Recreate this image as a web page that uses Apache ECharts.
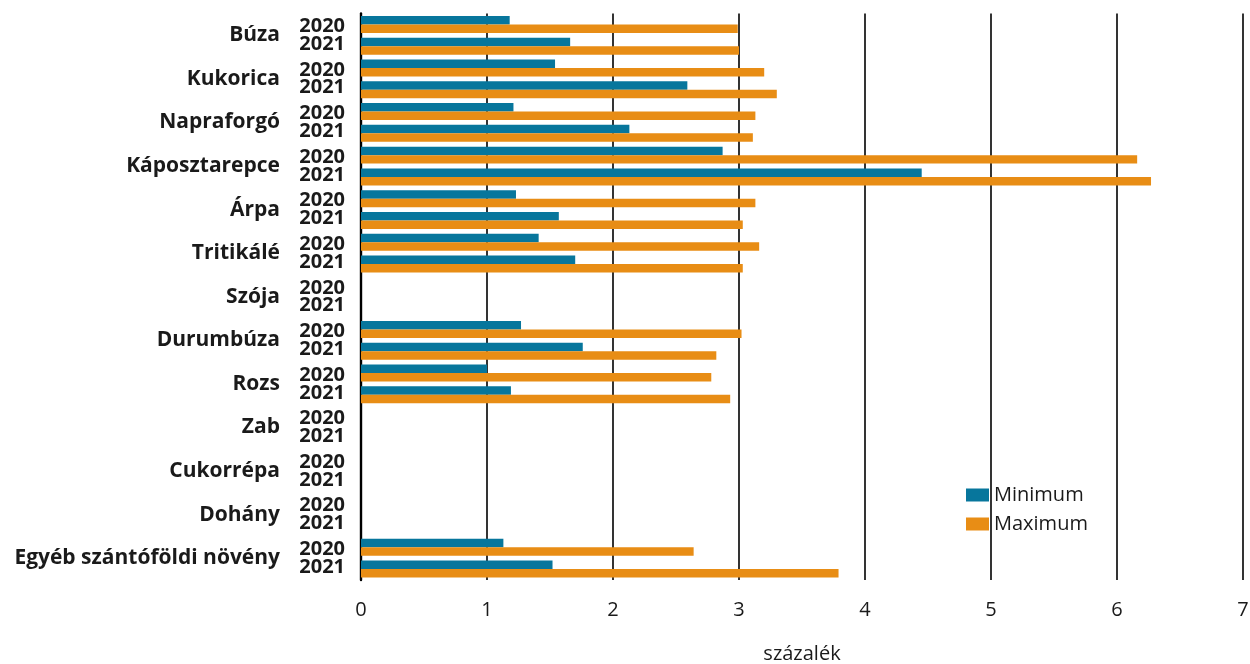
<!DOCTYPE html>
<html>
<head>
<meta charset="utf-8">
<script src="https://cdn.jsdelivr.net/npm/echarts@6/dist/echarts.min.js"></script>
<style>
html,body{margin:0;padding:0;background:#fff;}
#chart{width:1250px;height:664px;}
</style>
</head>
<body>
<div id="chart"></div>
<script>
const crops = ['Búza','Kukorica','Napraforgó','Káposztarepce','Árpa','Tritikálé','Szója','Durumbúza','Rozs','Zab','Cukorrépa','Dohány','Egyéb szántóföldi növény'];
const years = ['2020','2021'];
const min2020 = [1.18,1.54,1.21,2.87,1.23,1.41,null,1.27,1.00,null,null,null,1.13];
const min2021 = [1.66,2.59,2.13,4.45,1.57,1.70,null,1.76,1.19,null,null,null,1.52];
const max2020 = [2.99,3.20,3.13,6.16,3.13,3.16,null,3.02,2.78,null,null,null,2.64];
const max2021 = [3.00,3.30,3.11,6.27,3.03,3.03,null,2.82,2.93,null,null,null,3.79];
const xTicks = [0,1,2,3,4,5,6,7];
const xName = 'százalék';

const rows = [], minData = [], maxData = [];
crops.forEach((c, i) => {
  rows.push(c + ' ' + years[0]); minData.push(min2020[i]); maxData.push(max2020[i]);
  rows.push(c + ' ' + years[1]); minData.push(min2021[i]); maxData.push(max2021[i]);
});

const FONT = '"Open Sans", "Noto Sans", sans-serif';
const chart = echarts.init(document.getElementById('chart'), null, {renderer: 'canvas'});
chart.setOption({
  animation: false,
  backgroundColor: '#ffffff',
  textStyle: {fontFamily: FONT, color: '#1a1a1a'},
  grid: {left: 361, right: 7, top: 13.5, bottom: 84, containLabel: false, outerBoundsMode: 'none'},
  legend: {
    orient: 'vertical', left: 961, top: 480, itemGap: 9,
    itemWidth: 23, itemHeight: 13,
    icon: 'rect',
    textStyle: {fontSize: 20, color: '#1a1a1a', fontFamily: FONT},
    data: ['Minimum', 'Maximum']
  },
  xAxis: {
    type: 'value', min: xTicks[0], max: xTicks[xTicks.length - 1], interval: 1,
    name: xName, nameLocation: 'middle', nameGap: 64,
    nameTextStyle: {fontSize: 20, color: '#1a1a1a', fontFamily: FONT},
    axisLine: {show: false}, axisTick: {show: false},
    axisLabel: {fontSize: 20, color: '#1a1a1a', margin: 20, fontFamily: FONT},
    splitLine: {show: true, lineStyle: {color: '#000', width: 1.6}}
  },
  yAxis: [
    {
      type: 'category', data: rows, inverse: true, position: 'left',
      axisLine: {show: true, lineStyle: {color: '#000', width: 2.4}},
      axisTick: {show: false}, axisLabel: {show: false}, splitLine: {show: false}
    },
    {
      type: 'category', data: crops, inverse: true, position: 'left',
      axisLine: {show: false}, axisTick: {show: false}, splitLine: {show: false},
      axisLabel: {margin: 81, fontSize: 21, fontWeight: 'bold', color: '#1a1a1a', fontFamily: FONT}
    },
    {
      type: 'category', data: crops, inverse: true, position: 'left',
      axisLine: {show: false}, axisTick: {show: false}, splitLine: {show: false},
      axisLabel: {
        margin: 16, fontSize: 20, fontWeight: 'bold', color: '#1a1a1a', fontFamily: FONT,
        lineHeight: 17.8, formatter: () => years.join('\n')
      }
    }
  ],
  series: [
    {name: 'Minimum', type: 'bar', yAxisIndex: 0, data: minData, barGap: '0%', barCategoryGap: '22%',
     itemStyle: {color: '#07769c'}},
    {name: 'Maximum', type: 'bar', yAxisIndex: 0, data: maxData, barGap: '0%', barCategoryGap: '22%',
     itemStyle: {color: '#e88d15'}}
  ]
});
</script>
</body>
</html>
